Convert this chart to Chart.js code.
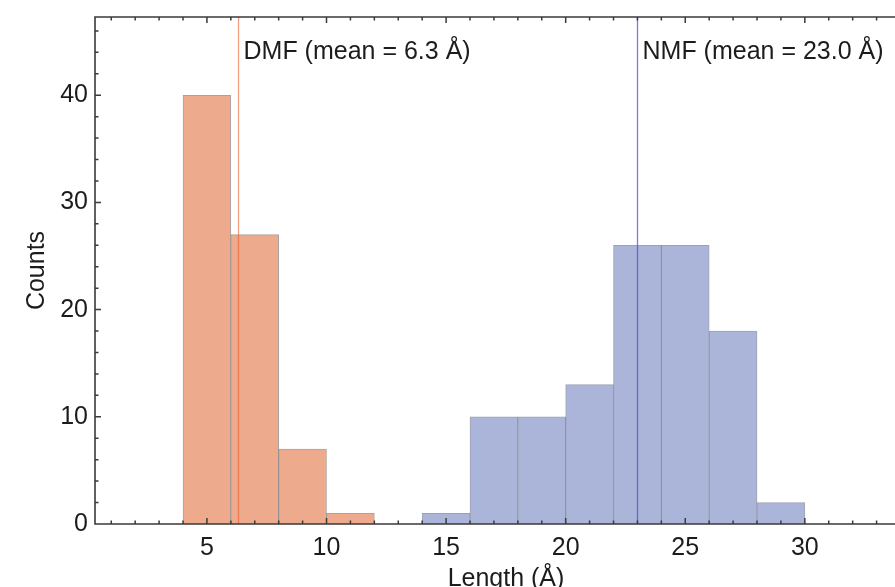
<!DOCTYPE html>
<html lang="en">
<head>
<meta charset="UTF-8">
<title>Length histogram DMF / NMF</title>
<script src="https://cdn.jsdelivr.net/npm/chart.js"></script>
<style>
  body { margin: 0; background: #ffffff; }
  #wrap { width: 895px; height: 587px; }
</style>
</head>
<body>
<div id="wrap"><canvas id="hist"></canvas></div>
<script>
// histogram bins are 2 Å wide; arrays hold the left edge of each bin
const binWidth = 2;
const dmfBins = [4, 6, 8, 10];
const dmfCounts = [40, 27, 7, 1];
const nmfBins = [14, 16, 18, 20, 22, 24, 26, 28];
const nmfCounts = [1, 10, 10, 13, 26, 26, 18, 2];
const dmfMean = 6.3;
const nmfMean = 23.0;
const xTicks = [5, 10, 15, 20, 25, 30];
const yTicks = [0, 10, 20, 30, 40];

Chart.defaults.font.family = '"Liberation Sans", Arial, sans-serif';
Chart.defaults.font.size = 25;
Chart.defaults.color = '#1c1c1c';

function toBars(bins, counts) {
    return bins.map((b, i) => ({ x: b + binWidth / 2, y: counts[i] }));
}

// frame, inward ticks, mean lines and their labels
const decorations = {
    id: 'decorations',
    afterDatasetsDraw(chart) {
        const { ctx, chartArea: a, scales: { x, y } } = chart;
        ctx.save();

        // mean lines
        const means = [
            { v: dmfMean, color: 'rgba(235,95,45,0.6)', text: 'DMF (mean = ' + dmfMean.toFixed(1) + ' Å)' },
            { v: nmfMean, color: 'rgba(75,85,180,0.75)', text: 'NMF (mean = ' + nmfMean.toFixed(1) + ' Å)' }
        ];
        means.forEach(m => {
            const px = Math.round(x.getPixelForValue(m.v)) + 0.5;
            ctx.strokeStyle = m.color;
            ctx.lineWidth = 1.3;
            ctx.beginPath();
            ctx.moveTo(px, a.top);
            ctx.lineTo(px, a.bottom);
            ctx.stroke();
            ctx.fillStyle = '#1c1c1c';
            ctx.font = '25px "Liberation Sans", Arial, sans-serif';
            ctx.textAlign = 'left';
            ctx.textBaseline = 'alphabetic';
            ctx.fillText(m.text, px + 5, y.getPixelForValue(43.4));
        });

        // frame (right side is cut off in the original)
        ctx.strokeStyle = '#3a3a3a';
        ctx.lineWidth = 1.6;
        ctx.beginPath();
        ctx.moveTo(a.right, a.top);
        ctx.lineTo(a.left, a.top);
        ctx.lineTo(a.left, a.bottom);
        ctx.lineTo(a.right, a.bottom);
        ctx.stroke();

        // ticks pointing inside
        ctx.lineWidth = 1.5;
        ctx.beginPath();
        for (let v = 1; v < x.max; v++) {
            const px = x.getPixelForValue(v);
            const len = v % 5 === 0 ? 6 : 3.5;
            ctx.moveTo(px, a.bottom);
            ctx.lineTo(px, a.bottom - len);
            ctx.moveTo(px, a.top);
            ctx.lineTo(px, a.top + len);
        }
        for (let v = 2; v < y.max; v += 2) {
            const py = y.getPixelForValue(v);
            const len = v % 10 === 0 ? 6 : 3.5;
            ctx.moveTo(a.left, py);
            ctx.lineTo(a.left + len, py);
        }
        ctx.stroke();

        // x axis title (centred on the full, uncut axis)
        ctx.fillStyle = '#1c1c1c';
        ctx.font = '25px "Liberation Sans", Arial, sans-serif';
        ctx.textAlign = 'center';
        ctx.fillText('Length (Å)', (a.left + a.right) / 2 + 11, 586);
        ctx.restore();
    }
};

new Chart(document.getElementById('hist'), {
    type: 'bar',
    data: {
        datasets: [
            {
                label: 'DMF',
                data: toBars(dmfBins, dmfCounts),
                backgroundColor: '#eeaa8d',
                borderColor: 'rgba(115,100,95,0.6)',
                borderWidth: 1
            },
            {
                label: 'NMF',
                data: toBars(nmfBins, nmfCounts),
                backgroundColor: '#abb5da',
                borderColor: 'rgba(95,100,130,0.6)',
                borderWidth: 1
            }
        ]
    },
    options: {
        responsive: true,
        maintainAspectRatio: false,
        animation: false,
        grouped: false,
        barPercentage: 1,
        categoryPercentage: 1,
        layout: { padding: { top: 17, right: 0, bottom: 0, left: 0 } },
        plugins: {
            legend: { display: false },
            tooltip: { enabled: false }
        },
        scales: {
            x: {
                type: 'linear',
                offset: false,
                min: 0.32,
                max: 33.77,
                afterBuildTicks: s => { s.ticks = xTicks.map(v => ({ value: v })); },
                afterFit: s => { s.height = 63; s.paddingLeft = 0; s.paddingRight = 0; },
                ticks: { padding: 9, maxRotation: 0 },
                grid: { display: false, drawTicks: false, offset: false },
                border: { display: false }
            },
            y: {
                min: 0,
                max: 47.3,
                afterBuildTicks: s => { s.ticks = yTicks.map(v => ({ value: v })); },
                afterFit: s => { s.width = 95; s.paddingTop = 0; s.paddingBottom = 0; },
                ticks: { padding: 7 },
                grid: { display: false, drawTicks: false },
                border: { display: false },
                title: {
                    display: true,
                    text: 'Counts',
                    font: { size: 25 },
                    padding: { top: 22, bottom: 0 }
                }
            }
        }
    },
    plugins: [decorations]
});
</script>
</body>
</html>
